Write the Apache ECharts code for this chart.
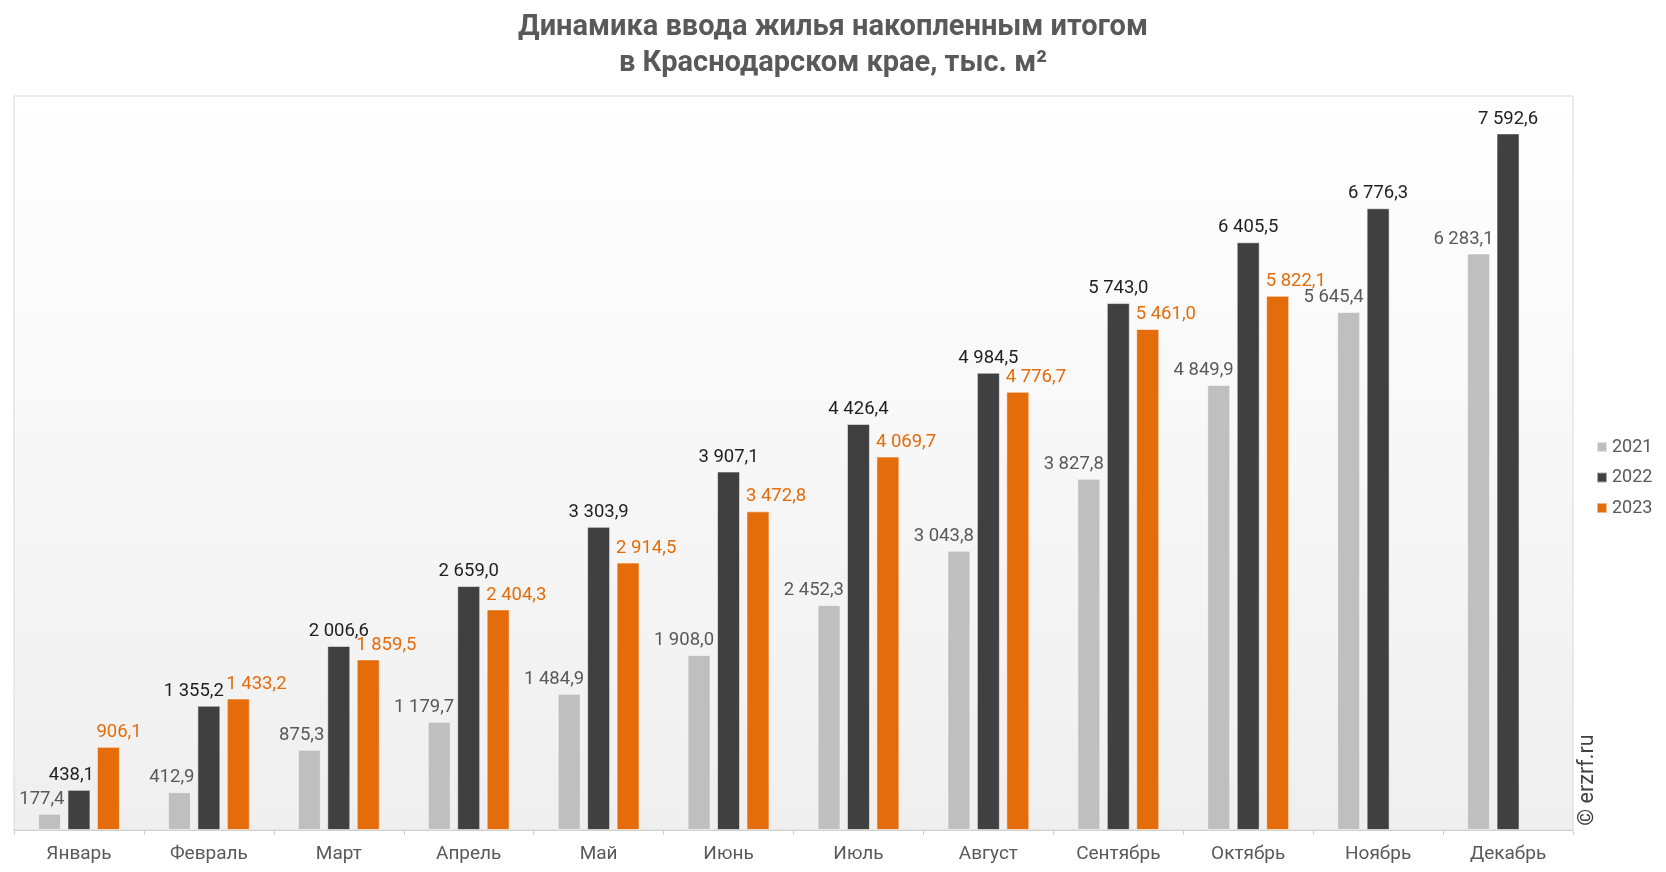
<!DOCTYPE html>
<html>
<head>
<meta charset="utf-8">
<script src="https://cdn.jsdelivr.net/npm/echarts@6/dist/echarts.min.js"></script>
<style>
html,body{margin:0;padding:0;background:#fff;}
#chart{width:1666px;height:872px;}
</style>
</head>
<body>
<div id="chart"></div>
<script>
const categories = ['Январь','Февраль','Март','Апрель','Май','Июнь','Июль','Август','Сентябрь','Октябрь','Ноябрь','Декабрь'];
const seriesNames = ['2021','2022','2023'];
const values2021 = [177.4, 412.9, 875.3, 1179.7, 1484.9, 1908.0, 2452.3, 3043.8, 3827.8, 4849.9, 5645.4, 6283.1];
const values2022 = [438.1, 1355.2, 2006.6, 2659.0, 3303.9, 3907.1, 4426.4, 4984.5, 5743.0, 6405.5, 6776.3, 7592.6];
const values2023 = [906.1, 1433.2, 1859.5, 2404.3, 2914.5, 3472.8, 4069.7, 4776.7, 5461.0, 5822.1, null, null];
const titleText = 'Динамика ввода жилья накопленным итогом\nв Краснодарском крае, тыс. м²';
const watermark = '© erzrf.ru';

const FONT = 'Roboto';
function fmt(v){
  const s = v.toFixed(1).split('.');
  return s[0].replace(/\B(?=(\d{3})+(?!\d))/g, ' ') + ',' + s[1];
}
const colors = ['#bfbfbf', '#404040', '#e46c0a'];
const labelColors = ['#595959', '#1f1f1f', '#e46c0a'];

const rightLabel = {position:'top', align:'right', offset:[15,0]};
const leftLabel = {position:'top', align:'left', offset:[-12,0]};

const data2022 = values2022.map((v,i) => {
  const o = values2023[i];
  if (o != null && o >= v) return {value: v, label: rightLabel};
  return {value: v};
});

function mkSeries(idx, data, lbl){
  return {
    name: seriesNames[idx],
    type: 'bar',
    data: data,
    barWidth: 23,
    barGap: '28%',
    barCategoryGap: '38%',
    itemStyle: {color: colors[idx], borderColor: 'rgba(255,255,255,0.55)', borderWidth: 1},
    label: Object.assign({
      show: true,
      position: 'top',
      distance: 5,
      fontFamily: FONT,
      fontSize: 18.5,
      color: labelColors[idx],
      formatter: p => fmt(p.value)
    }, lbl || {})
  };
}

const chart = echarts.init(document.getElementById('chart'), null, {renderer:'canvas'});
chart.setOption({
  animation: false,
  backgroundColor: '#ffffff',
  title: {
    text: titleText,
    left: 'center',
    top: 5,
    textStyle: {fontFamily: FONT, fontSize: 29, fontWeight: 'bold', color: '#595959', lineHeight: 36}
  },
  legend: {
    orient: 'vertical',
    left: 1596,
    top: 438,
    icon: 'rect',
    itemWidth: 10,
    itemHeight: 10,
    itemGap: 12.5,
    padding: 0,
    textStyle: {fontFamily: FONT, fontSize: 18, color: '#595959'},
    data: seriesNames
  },
  grid: {
    left: 14, right: 93, top: 96, bottom: 42,
    show: true,
    borderColor: '#d9d9d9',
    borderWidth: 1,
    backgroundColor: new echarts.graphic.LinearGradient(0,0,0,1,[
      {offset:0, color:'#ffffff'},
      {offset:1, color:'#efefef'}
    ])
  },
  xAxis: {
    type: 'category',
    data: categories,
    axisLine: {lineStyle: {color: '#d0d0d0', width: 1}},
    axisTick: {show: true, length: 5, lineStyle: {color: '#d0d0d0'}},
    axisLabel: {fontFamily: FONT, fontSize: 19, color: '#595959', margin: 15}
  },
  yAxis: {
    type: 'value',
    min: 0, max: 8000,
    show: false,
    splitLine: {show: false}
  },
  series: [
    mkSeries(0, values2021, rightLabel),
    mkSeries(1, data2022, null),
    mkSeries(2, values2023, leftLabel)
  ],
  graphic: [{
    type: 'text',
    x: 1588,
    y: 780,
    rotation: Math.PI/2,
    style: {
      text: watermark,
      fontFamily: FONT,
      fontSize: 21.5,
      fill: '#404040',
      align: 'center',
      verticalAlign: 'middle'
    }
  }]
});
</script>
</body>
</html>
